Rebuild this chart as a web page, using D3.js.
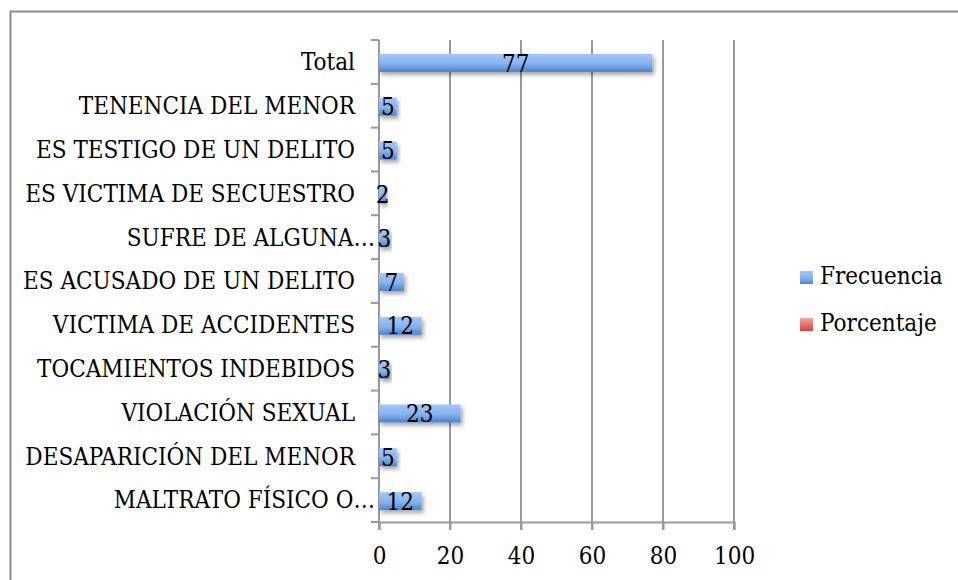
<!DOCTYPE html>
<html>
<head>
<meta charset="utf-8">
<script src="https://cdn.jsdelivr.net/npm/d3@7"></script>
<style>
  body { margin: 0; background: #fff; }
  text { font-family: "DejaVu Serif Condensed", "DejaVu Serif", serif; font-stretch: condensed; fill: #000; }
</style>
</head>
<body>
<div id="chart"></div>
<script>
// data (top to bottom as shown)
var categories = ["Total", "TENENCIA DEL MENOR", "ES TESTIGO DE UN DELITO", "ES VICTIMA DE SECUESTRO",
  "SUFRE DE ALGUNA\u2026", "ES ACUSADO DE UN DELITO", "VICTIMA DE ACCIDENTES", "TOCAMIENTOS INDEBIDOS",
  "VIOLACIÓN SEXUAL", "DESAPARICIÓN DEL MENOR", "MALTRATO FÍSICO O\u2026"];
var frecuencia = [77, 5, 5, 2, 3, 7, 12, 3, 23, 5, 12];
var xTicks = [0, 20, 40, 60, 80, 100];
var seriesNames = ["Frecuencia", "Porcentaje"];

var W = 958, H = 580;
var margin = {top: 40, left: 379, right: 224, bottom: 58};
var width = W - margin.left - margin.right,
    height = H - margin.top - margin.bottom;

var svg = d3.select("#chart").append("svg")
  .attr("width", W).attr("height", H);

var defs = svg.append("defs");
var gBlue = defs.append("linearGradient").attr("id", "blue").attr("x1", 0).attr("y1", 0).attr("x2", 0).attr("y2", 1);
gBlue.append("stop").attr("offset", "0%").attr("stop-color", "#a3c8fa");
gBlue.append("stop").attr("offset", "55%").attr("stop-color", "#86b2ee");
gBlue.append("stop").attr("offset", "100%").attr("stop-color", "#4a83cf");
var gRed = defs.append("linearGradient").attr("id", "red").attr("x1", 0).attr("y1", 0).attr("x2", 0).attr("y2", 1);
gRed.append("stop").attr("offset", "0%").attr("stop-color", "#f7a3a1");
gRed.append("stop").attr("offset", "100%").attr("stop-color", "#d9403d");
var sh = defs.append("filter").attr("id", "shadow").attr("x", "-10%").attr("y", "-30%").attr("width", "130%").attr("height", "190%");
sh.append("feDropShadow").attr("dx", 2).attr("dy", 3).attr("stdDeviation", 2).attr("flood-color", "#000").attr("flood-opacity", 0.35);

// outer frame
svg.append("rect").attr("x", 10.5).attr("y", 11.5).attr("width", W + 20).attr("height", H + 20)
  .attr("fill", "none").attr("stroke", "#8c8c8c").attr("stroke-width", 2);

var g = svg.append("g").attr("transform", "translate(" + margin.left + "," + margin.top + ")");

var x = d3.scaleLinear().domain([0, 100]).range([0, width]);
var y = d3.scaleBand().domain(categories).range([0, height]);

// gridlines
g.selectAll(".grid").data(xTicks.slice(1)).enter().append("line")
  .attr("x1", function(d) { return x(d); }).attr("x2", function(d) { return x(d); })
  .attr("y1", 0).attr("y2", height + 8)
  .attr("stroke", "#999").attr("stroke-width", 2);

// x axis
var xAxis = g.append("g").attr("transform", "translate(0," + height + ")")
  .call(d3.axisBottom(x).tickValues(xTicks).tickSize(8).tickPadding(17));
xAxis.select(".domain").attr("stroke", "#999").attr("stroke-width", 2);
xAxis.selectAll(".tick line").attr("stroke", "#999").attr("stroke-width", 2);
xAxis.selectAll(".tick text").style("font-size", "24px")
  .style("font-family", "'DejaVu Serif Condensed', 'DejaVu Serif', serif");

// y axis (ticks on band edges)
g.append("line").attr("x1", 0).attr("x2", 0).attr("y1", 0).attr("y2", height + 8)
  .attr("stroke", "#999").attr("stroke-width", 2);
g.selectAll(".ytick").data(categories).enter().append("line")
  .attr("x1", -8).attr("x2", 0)
  .attr("y1", function(d) { return y(d); }).attr("y2", function(d) { return y(d); })
  .attr("stroke", "#999").attr("stroke-width", 2);
g.append("line").attr("x1", -8).attr("x2", 0).attr("y1", height).attr("y2", height)
  .attr("stroke", "#999").attr("stroke-width", 2);

// category labels
g.selectAll(".cat").data(categories).enter().append("text")
  .attr("x", function(d) { return d.indexOf("\u2026") >= 0 ? -4 : -24; })
  .attr("y", function(d) { return y(d) + y.bandwidth() / 2; })
  .attr("dy", "0.35em").attr("text-anchor", "end")
  .style("font-size", "24px")
  .text(function(d) { return d; });

// bars
var barH = 18;
g.selectAll(".bar").data(frecuencia).enter().append("rect")
  .attr("x", 0)
  .attr("y", function(d, i) { return y(categories[i]) + y.bandwidth() / 2 - barH / 2 + 1; })
  .attr("width", function(d) { return x(d); })
  .attr("height", barH)
  .attr("fill", "url(#blue)")
  .attr("filter", "url(#shadow)");

// value labels
g.selectAll(".val").data(frecuencia).enter().append("text")
  .attr("x", function(d) { return x(d) / 2; })
  .attr("y", function(d, i) { return y(categories[i]) + y.bandwidth() / 2 + 1; })
  .attr("dy", "0.36em").attr("text-anchor", "middle")
  .style("font-size", "24px")
  .text(function(d) { return d; });

// legend
var leg = svg.append("g").attr("transform", "translate(800,271)");
var li = leg.selectAll("g").data(seriesNames).enter().append("g")
  .attr("transform", function(d, i) { return "translate(0," + (i * 47) + ")"; });
li.append("rect").attr("width", 13).attr("height", 13)
  .attr("fill", function(d, i) { return i === 0 ? "url(#blue)" : "url(#red)"; });
li.append("text").attr("x", 20).attr("y", 13)
  .style("font-size", "24px").text(function(d) { return d; });
</script>
</body>
</html>
